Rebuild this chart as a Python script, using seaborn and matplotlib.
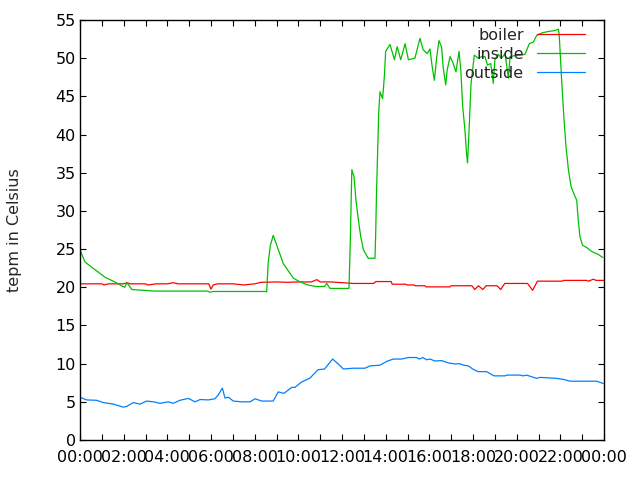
import matplotlib
matplotlib.use("Agg")
import matplotlib.pyplot as plt
from matplotlib.ticker import MultipleLocator, FixedLocator, FuncFormatter
import seaborn as sns
import pandas as pd

# ---------------- data (hours since midnight, degrees Celsius) ----------------
boiler_h = [0.0, 1.0, 1.1, 1.3, 2.0, 2.15, 2.3, 3.0, 3.1, 3.5, 4.0, 4.27, 4.5, 5.0,
            5.5, 5.9, 6.0, 6.1, 6.3, 7.0, 7.5, 8.0, 8.3, 9.0, 9.5, 10.0, 10.6,
            10.85, 11.0, 11.5, 12.0, 12.5, 13.0, 13.45, 13.55, 14.25, 14.3, 14.9,
            15.0, 15.3, 15.35, 15.8, 15.85, 16.95, 17.0, 17.95, 18.08, 18.25,
            18.45, 18.6, 19.1, 19.27, 19.45, 20.5, 20.73, 20.95, 22.1, 22.15,
            23.2, 23.3, 23.5, 23.65, 24.0]
boiler_v = [20.45, 20.45, 20.3, 20.45, 20.45, 20.6, 20.45, 20.45, 20.3, 20.45, 20.45,
            20.6, 20.45, 20.45, 20.45, 20.45, 19.75, 20.3, 20.45, 20.45, 20.3, 20.45,
            20.65, 20.7, 20.65, 20.7, 20.7, 21.0, 20.7, 20.7, 20.6, 20.5, 20.5,
            20.5, 20.75, 20.75, 20.4, 20.4, 20.3, 20.3, 20.2, 20.2, 20.05, 20.05,
            20.2, 20.2, 19.7, 20.2, 19.7, 20.2, 20.2, 19.7, 20.5, 20.5, 19.6,
            20.8, 20.8, 20.9, 20.9, 20.8, 21.05, 20.9, 20.9]

inside_h = [0.0, 0.23, 0.69, 1.15, 1.6, 1.9, 2.05, 2.15, 2.38, 3.43, 5.85, 5.95,
            6.1, 8.5, 8.55, 8.62, 8.72, 8.85, 9.31, 9.77, 10.08, 10.44, 10.8,
            11.2, 11.3, 11.45, 12.32, 12.38, 12.45, 12.55, 12.64, 12.75, 12.86,
            12.98, 13.2, 13.51, 13.54, 13.58, 13.63, 13.68, 13.74, 13.86, 13.94,
            14.0, 14.2, 14.4, 14.53, 14.69, 14.89, 15.04, 15.34, 15.57, 15.72,
            15.9, 16.03, 16.13, 16.23, 16.34, 16.44, 16.56, 16.63, 16.75, 16.82,
            16.95, 17.07, 17.22, 17.36, 17.44, 17.53, 17.63, 17.71, 17.75, 17.82,
            17.91, 18.06, 18.24, 18.4, 18.55, 18.66, 18.81, 18.93, 19.0, 19.16,
            19.31, 19.47, 19.62, 19.7, 19.85, 20.15, 20.38, 20.58, 20.76, 20.92,
            21.15, 21.45, 21.71, 21.91, 21.95, 22.06, 22.17, 22.26, 22.37, 22.49,
            22.64, 22.75, 22.82, 22.9, 23.02, 23.21, 23.43, 23.74, 23.94]
inside_v = [24.9, 23.3, 22.3, 21.3, 20.7, 20.2, 20.0, 20.6, 19.7, 19.5, 19.5, 19.35,
            19.45, 19.45, 19.4, 23.2, 25.5, 26.8, 23.1, 21.2, 20.7, 20.3, 20.1,
            20.1, 20.5, 19.85, 19.85, 26.0, 35.4, 34.5, 31.4, 28.8, 26.6, 24.9,
            23.8, 23.8, 26.6, 32.3, 37.5, 42.8, 45.6, 44.7, 47.6, 50.9, 51.8,
            49.8, 51.5, 49.8, 51.9, 49.8, 50.0, 52.6, 51.1, 50.6, 51.2, 48.9,
            47.1, 50.2, 52.3, 51.5, 48.9, 46.5, 48.5, 50.2, 49.5, 48.2, 50.9,
            48.5, 43.6, 40.6, 37.3, 36.3, 40.6, 46.7, 50.4, 50.0, 50.2, 50.2,
            49.1, 49.3, 46.7, 49.8, 50.5, 50.0, 50.6, 47.4, 50.2, 50.3, 50.4,
            50.5, 51.9, 52.1, 53.0, 53.3, 53.5, 53.6, 53.8, 53.0, 47.1, 41.9,
            38.4, 35.4, 33.2, 32.1, 31.4, 28.8, 26.6, 25.5, 25.2, 24.7, 24.3, 23.9]

outside_h = [0.0, 0.3, 0.76, 1.07, 1.53, 1.98, 2.14, 2.44, 2.75, 3.05, 3.36, 3.66,
             4.05, 4.27, 4.58, 4.96, 5.27, 5.5, 5.88, 6.18, 6.33, 6.52, 6.64, 6.8,
             7.02, 7.4, 7.79, 8.02, 8.32, 8.85, 9.08, 9.34, 9.7, 9.85, 10.15,
             10.53, 10.9, 11.2, 11.57, 11.83, 12.06, 12.52, 13.05, 13.28, 13.74,
             14.05, 14.35, 14.73, 15.04, 15.42, 15.54, 15.7, 15.88, 16.03, 16.26,
             16.56, 16.87, 17.18, 17.38, 17.56, 17.79, 18.01, 18.24, 18.63, 18.86,
             18.96, 19.47, 19.55, 20.15, 20.3, 20.45, 20.92, 21.07, 21.83, 22.14,
             22.44, 23.66, 23.97]
outside_v = [5.6, 5.25, 5.2, 4.9, 4.7, 4.3, 4.4, 4.9, 4.7, 5.1, 5.0, 4.8, 5.0, 4.8,
             5.2, 5.45, 5.0, 5.3, 5.25, 5.4, 5.9, 6.8, 5.5, 5.6, 5.1, 5.0, 5.0,
             5.4, 5.1, 5.1, 6.3, 6.1, 6.9, 6.9, 7.6, 8.1, 9.2, 9.3, 10.6, 9.95,
             9.3, 9.4, 9.4, 9.7, 9.8, 10.3, 10.6, 10.6, 10.8, 10.8, 10.6, 10.8,
             10.5, 10.6, 10.34, 10.4, 10.1, 9.95, 10.0, 9.8, 9.7, 9.25, 8.95,
             8.95, 8.56, 8.4, 8.4, 8.5, 8.5, 8.4, 8.5, 8.07, 8.2, 8.07, 7.94,
             7.7, 7.7, 7.4]

series_names = ["boiler", "inside", "outside"]
series_colors = ["#ff0000", "#00c000", "#0080ff"]
tick_labels = ["00:00", "02:00", "04:00", "06:00", "08:00", "10:00", "12:00",
               "14:00", "16:00", "18:00", "20:00", "22:00", "00:00"]
y_label = "tepm in Celsius"

# ---------------- build long table ----------------
frames = []
for name, hs, vs in zip(series_names, [boiler_h, inside_h, outside_h],
                        [boiler_v, inside_v, outside_v]):
    frames.append(pd.DataFrame({"hour": hs, "temp": vs, "series": name}))
df = pd.concat(frames, ignore_index=True)

# ---------------- plot ----------------
sns.set_style("white")
plt.rcParams["font.family"] = ["DejaVu Sans"]

fig = plt.figure(figsize=(6.4, 4.8), dpi=100)
ax = fig.add_axes([80 / 640, 40 / 480, 524 / 640, 420 / 480])

sns.lineplot(data=df, x="hour", y="temp", hue="series", hue_order=series_names,
             palette=dict(zip(series_names, series_colors)), estimator=None,
             sort=False, linewidth=0.9, ax=ax)

ax.set_xlim(0, 24)
ax.set_ylim(0, 55)
ax.xaxis.set_major_locator(FixedLocator(list(range(0, 25, 2))))
ax.xaxis.set_major_formatter(FuncFormatter(lambda v, p: tick_labels[int(round(v / 2))]
                                           if 0 <= int(round(v / 2)) < len(tick_labels) else ""))
ax.xaxis.set_minor_locator(MultipleLocator(1))
ax.yaxis.set_major_locator(MultipleLocator(5))

for s in ax.spines.values():
    s.set_color("black")
    s.set_linewidth(1.0)

ax.tick_params(axis="both", which="both", direction="in", top=True, right=True,
               bottom=True, left=True, colors="black", labelsize=11.5)
ax.tick_params(axis="both", which="major", length=4, width=0.8)
ax.tick_params(axis="both", which="minor", length=4, width=0.8)
ax.tick_params(axis="x", which="major", pad=7)
ax.tick_params(axis="y", which="major", pad=3)

ax.set_xlabel("")
ax.set_ylabel(y_label, fontsize=11.5)
ax.yaxis.set_label_coords(-0.11, 0.5)

leg = ax.legend(loc="upper right", bbox_to_anchor=(0.964, 0.982), frameon=False,
                markerfirst=False, handlelength=3.0, handletextpad=0.85,
                labelspacing=0.25, borderpad=0, borderaxespad=0, fontsize=11.5)
for line in leg.get_lines():
    line.set_linewidth(0.9)

fig.savefig("out.png", dpi=100)
